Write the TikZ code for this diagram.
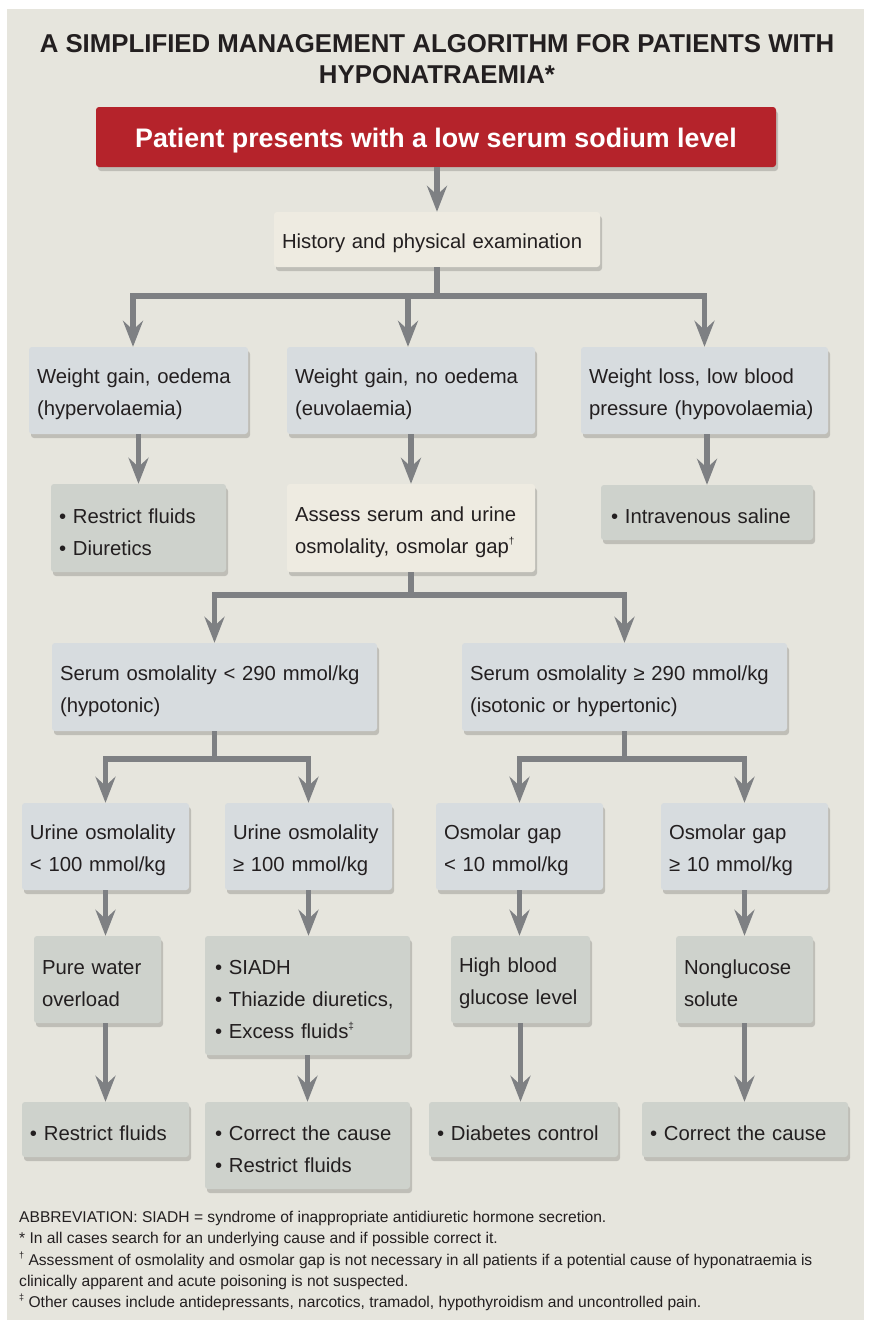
\documentclass[tikz,border=0pt]{standalone}
\usepackage{fontspec}
\setmainfont{Liberation Sans}
\usetikzlibrary{arrows.meta,shadows}
\definecolor{panel}{HTML}{E6E5DD}
\definecolor{bluebox}{HTML}{D7DCDF}
\definecolor{greenbox}{HTML}{CED2CC}
\definecolor{creambox}{HTML}{EEEBE1}
\definecolor{redbox}{HTML}{B5232B}
\definecolor{linegray}{HTML}{7E8083}
\definecolor{ink}{HTML}{231F20}
\newcommand{\smallsup}[1]{\raisebox{0.45em}{\fontsize{10}{10}\selectfont #1}}
\newcommand{\notesup}[1]{\raisebox{0.45em}{\fontsize{9}{9}\selectfont #1}}
\begin{document}
\begin{tikzpicture}[x=1pt,y=-1pt,
  softshadow/.style={drop shadow={shadow xshift=2pt, shadow yshift=-4pt, opacity=0.17, fill=black}},
  basebox/.style={rounded corners=3pt, inner xsep=8pt, inner ysep=0pt, align=left,
    text=ink, font=\fontsize{20.3}{32}\selectfont, softshadow,
    execute at begin node={\rule{0pt}{23pt}}},
  bluebx/.style={basebox, fill=bluebox},
  greenbx/.style={basebox, fill=greenbox},
  creambx/.style={basebox, fill=creambox},
  sz/.style n args={2}{minimum width=#1pt, text width=#1pt-16pt, minimum height=#2pt},
  conn/.style={draw=linegray, line width=5.5pt, line join=miter},
  arr/.style={conn, -{Stealth[length=26pt,width=20pt,inset=9pt]}},
]
\useasboundingbox (0,0) rectangle (872,1326);
\fill[white] (0,0) rectangle (872,1326);
\fill[panel] (7,9) rectangle (864,1320);

\node[font=\fontsize{25.8}{30.5}\selectfont\bfseries, align=center, text=ink, inner sep=0pt] (title) at (437,59)
  {A SIMPLIFIED MANAGEMENT ALGORITHM FOR PATIENTS WITH\\HYPONATRAEMIA*};

\node[rounded corners=3pt, fill=redbox, text=white, minimum width=680pt, minimum height=60pt, inner ysep=0pt,
  font=\fontsize{26.8}{32}\selectfont\bfseries, softshadow,
  execute at begin node={\rule{0pt}{25.6pt}}] (red) at (436,137)
  {Patient presents with a low serum sodium level};

\node[creambx, sz={326}{55}] (hist) at (437,239.5) {History and physical examination};

\node[bluebx, sz={219}{87}] (hyper) at (138.5,390.5) {Weight gain, oedema\\(hypervolaemia)};
\node[bluebx, sz={248}{87}] (euv) at (411,390.5) {Weight gain, no oedema\\(euvolaemia)};
\node[bluebx, sz={247}{87}] (hypo) at (704.5,390.5) {Weight loss, low blood\\pressure (hypovolaemia)};

\node[greenbx, sz={175}{88}] (rf1) at (138.5,528) {• Restrict fluids\\• Diuretics};
\node[creambx, sz={248}{88}] (assess) at (411,528) {Assess serum and urine\\osmolality, osmolar gap\smallsup{†}};
\node[greenbx, sz={208}{55}, inner xsep=10pt] (saline) at (707,512.5) {• Intravenous saline};

\node[bluebx, sz={325}{88}] (s1) at (214.5,687) {Serum osmolality < 290 mmol/kg\\(hypotonic)};
\node[bluebx, sz={325}{88}] (s2) at (624.5,687) {Serum osmolality ≥ 290 mmol/kg\\(isotonic or hypertonic)};

\node[bluebx, sz={167}{87}] (u1) at (105.5,846.5) {Urine osmolality\\< 100 mmol/kg};
\node[bluebx, sz={167}{87}] (u2) at (308.5,846.5) {Urine osmolality\\≥ 100 mmol/kg};
\node[bluebx, sz={167}{87}] (g1) at (519.5,846.5) {Osmolar gap\\< 10 mmol/kg};
\node[bluebx, sz={167}{87}] (g2) at (744.5,846.5) {Osmolar gap\\≥ 10 mmol/kg};

\node[greenbx, sz={127}{87}] (pw) at (97.5,979.5) {Pure water\\overload};
\node[greenbx, sz={201}{119}, inner xsep=10pt] (siadh) at (307.5,995.5) {• SIADH\\• Thiazide diuretics,\\• Excess fluids\smallsup{‡}};
\node[greenbx, sz={139}{87}] (hb) at (520.5,979.5) {High blood\\glucose level};
\node[greenbx, sz={137}{87}] (ng) at (744.5,979.5) {Nonglucose\\solute};

\node[greenbx, sz={167}{55}] (rf2) at (105.5,1129.5) {• Restrict fluids};
\node[greenbx, sz={201}{87}, inner xsep=10pt] (cc1) at (307.5,1145.5) {• Correct the cause\\• Restrict fluids};
\node[greenbx, sz={189}{55}] (dc) at (523.5,1129.5) {• Diabetes control};
\node[greenbx, sz={206}{55}] (cc2) at (745,1129.5) {• Correct the cause};

\node[anchor=north west, inner sep=0pt, align=left, text=ink, font=\fontsize{15.6}{21.3}\selectfont] (notes) at (19,1211)
  {ABBREVIATION: SIADH = syndrome of inappropriate antidiuretic hormone secretion.\\
   * In all cases search for an underlying cause and if possible correct it.\\
   \notesup{†} Assessment of osmolality and osmolar gap is not necessary in all patients if a potential cause of hyponatraemia is\\
   clinically apparent and acute poisoning is not suspected.\\
   \notesup{‡} Other causes include antidepressants, narcotics, tramadol, hypothyroidism and uncontrolled pain.};

% connectors
\coordinate (j1) at (437,296);
\coordinate (j2) at (411,595);
\coordinate (j3) at (214.5,759);
\coordinate (j4) at (624.5,759);

\draw[arr] (red.south -| hist.north) -- (hist.north);
\draw[conn] (hist.south) -- (j1);
\draw[arr] (j1) -| ([xshift=-5.5pt]hyper.north);
\draw[arr] (j1) -| ([xshift=-3pt]euv.north);
\draw[arr] (j1) -| (hypo.north);

\draw[arr] (hyper.south) -- (rf1.north);
\draw[arr] (euv.south) -- (assess.north);
\draw[arr] (hypo.south -| saline.north) -- (saline.north);

\draw[conn] (assess.south) -- (j2);
\draw[arr] (j2) -| (s1.north);
\draw[arr] (j2) -| (s2.north);

\draw[conn] (s1.south) -- (j3);
\draw[arr] (j3) -| (u1.north);
\draw[arr] (j3) -| (u2.north);
\draw[conn] (s2.south) -- (j4);
\draw[arr] (j4) -| (g1.north);
\draw[arr] (j4) -| (g2.north);

\draw[arr] (u1.south) -- (u1.south |- pw.north);
\draw[arr] (u2.south) -- (u2.south |- siadh.north);
\draw[arr] (g1.south) -- (g1.south |- hb.north);
\draw[arr] (g2.south) -- (g2.south |- ng.north);

\draw[arr] (pw.south -| rf2.north) -- (rf2.north);
\draw[arr] (siadh.south) -- (cc1.north);
\draw[arr] (hb.south) -- (hb.south |- dc.north);
\draw[arr] (ng.south) -- (ng.south |- cc2.north);
\end{tikzpicture}
\end{document}
